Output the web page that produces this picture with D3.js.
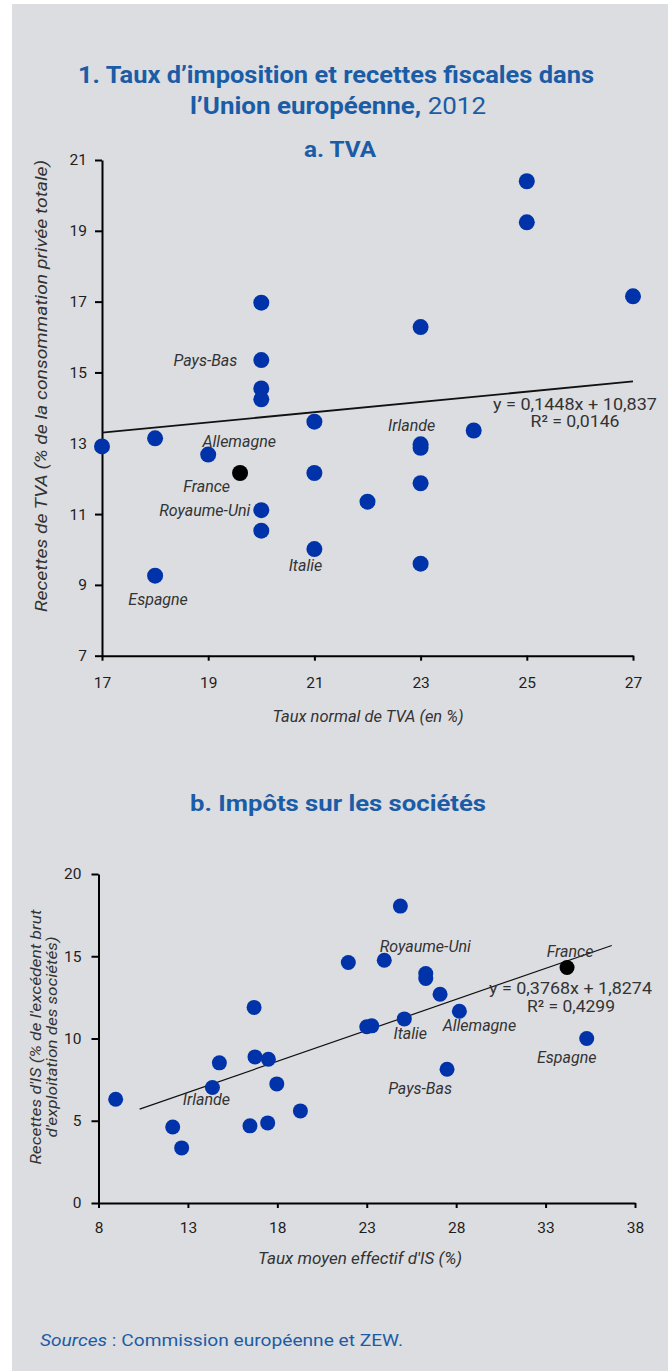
<!DOCTYPE html>
<html lang="fr">
<head>
<meta charset="utf-8">
<script src="https://cdn.jsdelivr.net/npm/d3@7/dist/d3.min.js"></script>
<style>
  html, body { margin: 0; padding: 0; background: #ffffff; }
  svg { display: block; font-family: Roboto, "Noto Sans", sans-serif; }
</style>
</head>
<body>
<svg id="fig" width="668" height="1371"></svg>
<script>
// ---- a. TVA : taux normal (%) et recettes (% de la consommation privée totale)
const tvaRate    = [17, 18, 18, 19, 20, 20, 20, 20, 20, 20, 21, 21, 21, 22, 23, 23, 23, 23, 23, 24, 25, 25, 27];
const tvaRevenue = [12.91, 13.14, 9.26, 12.68, 16.97, 15.35, 14.55, 14.24, 11.11, 10.53, 13.61, 12.16, 10.01, 11.35, 16.28, 12.97, 12.87, 11.87, 9.60, 13.36, 20.40, 19.24, 17.15];
const tvaFrance  = { rate: 19.6, revenue: 12.16 };
const tvaXTicks  = [17, 19, 21, 23, 25, 27];
const tvaYTicks  = [7, 9, 11, 13, 15, 17, 19, 21];
const tvaTrend   = { slope: 0.1448, intercept: 10.837, r2: "0,0146", label: "y = 0,1448x + 10,837" };

// ---- b. Impôts sur les sociétés : taux moyen effectif (%) et recettes (% de l'EBE)
const isRate    = [8.96, 12.15, 12.65, 14.37, 14.76, 16.70, 16.75, 17.50, 17.97, 16.47, 17.46, 19.29, 24.88, 21.97, 23.98, 26.30, 26.30, 27.10, 28.18, 25.10, 23.00, 23.28, 27.49, 35.30];
const isRevenue = [6.31, 4.62, 3.35, 7.02, 8.52, 11.89, 8.88, 8.74, 7.24, 4.69, 4.87, 5.60, 18.05, 14.62, 14.76, 13.95, 13.65, 12.69, 11.66, 11.19, 10.71, 10.77, 8.13, 10.00];
const isFrance  = { rate: 34.2, revenue: 14.32 };
const isXTicks  = [8, 13, 18, 23, 28, 33, 38];
const isYTicks  = [0, 5, 10, 15, 20];
const isTrend   = { slope: 0.3768, intercept: 1.8274, r2: "0,4299", label: "y = 0,3768x + 1,8274", from: 10.3, to: 36.7 };

// Country labels: the point each one names (index into the arrays above, or "FR")
const tvaLabels = [
  { name: "Pays-Bas",    pt: 5,    dx: -24, dy: 0,   anchor: "end" },
  { name: "Allemagne",   pt: 3,    dx: 31,  dy: -13, anchor: "middle" },
  { name: "France",      pt: "FR", dx: -10, dy: 13,  anchor: "end" },
  { name: "Royaume-Uni", pt: 8,    dx: -11, dy: 0,   anchor: "end" },
  { name: "Italie",      pt: 12,   dx: -9,  dy: 16,  anchor: "middle" },
  { name: "Espagne",     pt: 2,    dx: 3,   dy: 24,  anchor: "middle" },
  { name: "Irlande",     pt: 15,   dx: -9,  dy: -19, anchor: "middle" }
];
const isLabels = [
  { name: "Royaume-Uni", pt: 14,   dx: 41,  dy: -14, anchor: "middle" },
  { name: "France",      pt: "FR", dx: 3,   dy: -16, anchor: "middle" },
  { name: "Italie",      pt: 19,   dx: 6,   dy: 14,  anchor: "middle" },
  { name: "Allemagne",   pt: 18,   dx: 20,  dy: 14,  anchor: "middle" },
  { name: "Espagne",     pt: 23,   dx: -20, dy: 19,  anchor: "middle" },
  { name: "Pays-Bas",    pt: 22,   dx: -27, dy: 19,  anchor: "middle" },
  { name: "Irlande",     pt: 3,    dx: -6,  dy: 12,  anchor: "middle" }
];

const BLUE = "#0033aa", TITLE = "#1b5ca6", INK = "#1e1e1e", LABEL = "#333333";

const svg = d3.select("#fig");
svg.append("rect").attr("x", 12).attr("y", 4).attr("width", 656).attr("height", 1367).attr("fill", "#dcdde0");

// Main title
svg.append("text").attr("x", 336).attr("y", 83).attr("text-anchor", "middle")
  .attr("fill", TITLE).attr("font-size", 23).attr("font-weight", 700)
  .attr("textLength", 516).attr("lengthAdjust", "spacingAndGlyphs")
  .text("1. Taux d’imposition et recettes fiscales dans");
const t2 = svg.append("text").attr("x", 338).attr("y", 114).attr("text-anchor", "middle")
  .attr("fill", TITLE).attr("font-size", 23)
  .attr("textLength", 296).attr("lengthAdjust", "spacingAndGlyphs");
t2.append("tspan").attr("font-weight", 700).text("l’Union européenne,");
t2.append("tspan").attr("font-weight", 400).text(" 2012");

function subTitle(txt, x, y, len) {
  svg.append("text").attr("x", x).attr("y", y).attr("text-anchor", "middle")
    .attr("fill", TITLE).attr("font-size", 22).attr("font-weight", 700)
    .attr("textLength", len).attr("lengthAdjust", "spacingAndGlyphs").text(txt);
}
subTitle("a. TVA", 340, 157, 72);
subTitle("b. Impôts sur les sociétés", 338, 811, 296);

function drawPanel(cfg) {
  const g = svg.append("g");
  const x = cfg.x, y = cfg.y;

  const gx = g.append("g").attr("transform", `translate(0,${y.range()[0]})`)
    .call(d3.axisBottom(x).tickValues(cfg.xTicks).tickSize(cfg.xTickSize).tickPadding(cfg.xPad).tickSizeOuter(0).tickFormat(d3.format("d")));
  const gy = g.append("g").attr("transform", `translate(${x.range()[0]},0)`)
    .call(d3.axisLeft(y).tickValues(cfg.yTicks).tickSize(7).tickPadding(cfg.yPad).tickSizeOuter(0).tickFormat(d3.format("d")));
  [gx, gy].forEach(a => {
    a.select(".domain").attr("stroke", "#000").attr("stroke-width", 2);
    a.selectAll(".tick line").attr("stroke", "#000").attr("stroke-width", 2);
    a.selectAll(".tick text").attr("fill", INK).attr("font-size", 15.5).attr("font-family", "Roboto, sans-serif");
  });

  // trend line
  const tr = cfg.trend;
  const x0 = tr.from, x1 = tr.to;
  g.append("line")
    .attr("x1", x(x0)).attr("y1", y(tr.slope * x0 + tr.intercept))
    .attr("x2", x(x1)).attr("y2", y(tr.slope * x1 + tr.intercept))
    .attr("stroke", "#111").attr("stroke-width", cfg.trendWidth);

  // points
  const pts = cfg.rate.map((r, i) => ({ r, v: cfg.revenue[i] }));
  g.selectAll("circle.pt").data(pts).join("circle").attr("class", "pt")
    .attr("cx", d => x(d.r)).attr("cy", d => y(d.v)).attr("r", cfg.radius).attr("fill", BLUE);
  g.append("circle").attr("cx", x(cfg.france.rate)).attr("cy", y(cfg.france.revenue))
    .attr("r", cfg.radius).attr("fill", "#000");

  // country labels
  g.selectAll("text.lab").data(cfg.labels).join("text").attr("class", "lab")
    .attr("x", d => (d.pt === "FR" ? x(cfg.france.rate) : x(cfg.rate[d.pt])) + d.dx)
    .attr("y", d => (d.pt === "FR" ? y(cfg.france.revenue) : y(cfg.revenue[d.pt])) + d.dy)
    .attr("dy", "0.35em").attr("text-anchor", d => d.anchor)
    .attr("font-size", 16).attr("font-style", "italic").attr("fill", LABEL).text(d => d.name);

  // regression equation
  g.append("text").attr("x", cfg.eq[0]).attr("y", cfg.eq[1]).attr("dy", "0.35em").attr("text-anchor", "middle")
    .attr("font-size", 16.5).attr("fill", LABEL)
    .attr("textLength", cfg.eq[4]).attr("lengthAdjust", "spacingAndGlyphs").text(tr.label);
  g.append("text").attr("x", cfg.eq[2]).attr("y", cfg.eq[3]).attr("dy", "0.35em").attr("text-anchor", "middle")
    .attr("font-size", 16.5).attr("fill", LABEL)
    .attr("textLength", cfg.eq[5]).attr("lengthAdjust", "spacingAndGlyphs").text("R² = " + tr.r2);

  // axis titles
  g.append("text").attr("x", cfg.xTitle[0]).attr("y", cfg.xTitle[1]).attr("dy", "0.35em").attr("text-anchor", "middle")
    .attr("font-size", 16).attr("font-style", "italic").attr("fill", LABEL)
    .attr("textLength", cfg.xTitle[2]).attr("lengthAdjust", "spacingAndGlyphs").text(cfg.xTitleText);
  cfg.yTitleLines.forEach((line, i) => {
    const [cx, cy, len, fs] = cfg.yTitle[i];
    g.append("text").attr("transform", `translate(${cx},${cy}) rotate(-90)`).attr("dy", "0.35em")
      .attr("text-anchor", "middle").attr("font-size", fs).attr("font-style", "italic").attr("fill", LABEL)
      .attr("textLength", len).attr("lengthAdjust", "spacingAndGlyphs").text(line);
  });
}

drawPanel({
  x: d3.scaleLinear().domain([17, 27]).range([102, 633]),
  y: d3.scaleLinear().domain([7, 21]).range([655.7, 160]),
  xTicks: tvaXTicks, yTicks: tvaYTicks, xTickSize: 5, xPad: 16, yPad: 8,
  rate: tvaRate, revenue: tvaRevenue, france: tvaFrance,
  trend: Object.assign({ from: 17, to: 27 }, tvaTrend), trendWidth: 1.8,
  radius: 8, labels: tvaLabels,
  eq: [575, 404, 575, 421, 164, 89],
  xTitleText: "Taux normal de TVA (en %)", xTitle: [368, 716, 191],
  yTitleLines: ["Recettes de TVA (% de la consommation privée totale)"],
  yTitle: [[41, 386, 452, 16]]
});

drawPanel({
  x: d3.scaleLinear().domain([8, 38]).range([98.5, 635]),
  y: d3.scaleLinear().domain([0, 20]).range([1203, 874]),
  xTicks: isXTicks, yTicks: isYTicks, xTickSize: 5, xPad: 14, yPad: 10,
  rate: isRate, revenue: isRevenue, france: isFrance,
  trend: isTrend, trendWidth: 1.2,
  radius: 7.5, labels: isLabels,
  eq: [570.5, 988, 571, 1006, 163, 88],
  xTitleText: "Taux moyen effectif d'IS (%)", xTitle: [360, 1258, 204],
  yTitleLines: ["Recettes d'IS (% de l'excédent brut", "d'exploitation des sociétés)"],
  yTitle: [[36, 1037, 255, 14.5], [52, 1037, 201, 14.5]]
});

// Sources
const src = svg.append("text").attr("x", 40).attr("y", 1346).attr("fill", TITLE).attr("font-size", 17)
  .attr("textLength", 363).attr("lengthAdjust", "spacingAndGlyphs");
src.append("tspan").attr("font-style", "italic").text("Sources");
src.append("tspan").text(" : Commission européenne et ZEW.");
</script>
</body>
</html>
